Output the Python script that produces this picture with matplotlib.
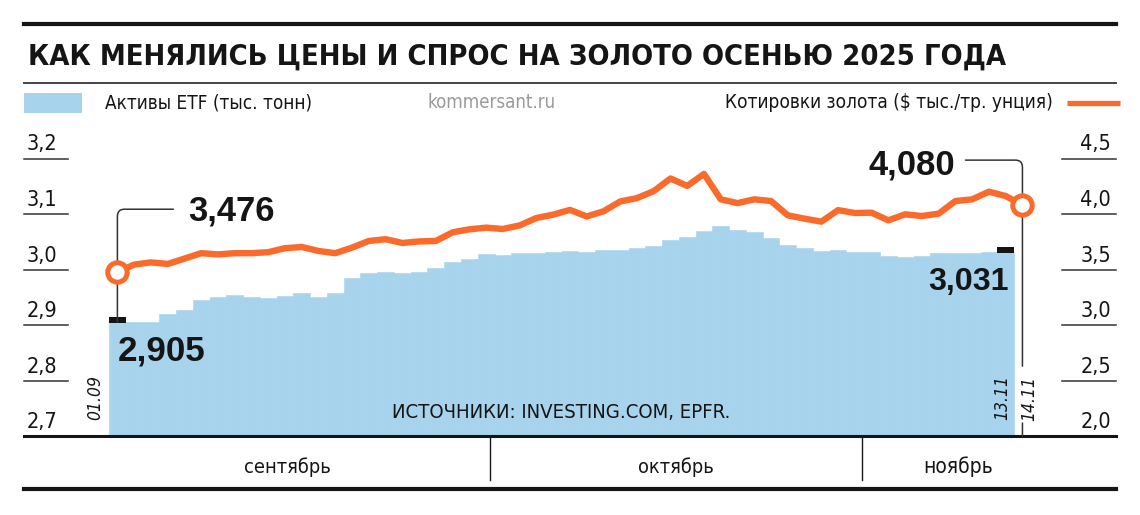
import numpy as np
import matplotlib
matplotlib.use('Agg')
import matplotlib.pyplot as plt
from matplotlib.lines import Line2D
from matplotlib.patches import Rectangle

# ДАННЫЕ
# активы ETF, тыс. тонн, торговые дни 01.09 - 13.11
etf = [2.905, 2.905, 2.905, 2.920, 2.927, 2.945, 2.951, 2.954, 2.951, 2.948,
       2.952, 2.958, 2.951, 2.958, 2.985, 2.994, 2.996, 2.994, 2.996, 3.003,
       3.013, 3.019, 3.028, 3.027, 3.029, 3.030, 3.031, 3.033, 3.032, 3.035,
       3.036, 3.038, 3.043, 3.054, 3.058, 3.069, 3.079, 3.071, 3.067, 3.057,
       3.044, 3.038, 3.033, 3.036, 3.031, 3.031, 3.025, 3.023, 3.025, 3.029,
       3.029, 3.029, 3.031, 3.031]
# котировки золота, $ тыс./тр. унция, 01.09 - 14.11
zoloto = [3.476, 3.544, 3.564, 3.550, 3.598, 3.647, 3.636, 3.647, 3.647, 3.656,
          3.692, 3.703, 3.667, 3.647, 3.697, 3.757, 3.773, 3.739, 3.753, 3.757,
          3.835, 3.862, 3.877, 3.865, 3.897, 3.964, 3.994, 4.037, 3.978, 4.024,
          4.113, 4.143, 4.206, 4.320, 4.253, 4.361, 4.132, 4.098, 4.132, 4.117,
          3.988, 3.958, 3.931, 4.035, 4.009, 4.012, 3.943, 3.997, 3.982, 4.003,
          4.117, 4.132, 4.201, 4.162, 4.080]
daty = ['01.09', '13.11', '14.11']
mesyacy = ['сентябрь', 'октябрь', 'ноябрь']
ticks_lev = [2.7, 2.8, 2.9, 3.0, 3.1, 3.2]
ticks_prav = [2.0, 2.5, 3.0, 3.5, 4.0, 4.5]

titulo = 'КАК МЕНЯЛИСЬ ЦЕНЫ И СПРОС НА ЗОЛОТО ОСЕНЬЮ 2025 ГОДА'
leg_etf = 'Активы ETF (тыс. тонн)'
leg_zol = 'Котировки золота ($ тыс./тр. унция)'
istochnik = 'ИСТОЧНИКИ: INVESTING.COM, EPFR.'

AZUL = '#a7d3ec'
LARANJA = '#fa6a2b'
PRETO = '#151515'
NARROW = ['DejaVu Sans']
BOLD = ['Liberation Sans', 'DejaVu Sans']
ESTREITO = dict(family=NARROW, fontstretch='condensed')

W, H = 1140, 515
fig = plt.figure(figsize=(W / 100, H / 100), dpi=100)
fig.patch.set_facecolor('white')

def fx(px):
    return px / W

def fy(py):
    return 1 - py / H

def fit(t, largura):
    # ajusta o tamanho da fonte para a largura desejada (px)
    r = fig.canvas.get_renderer()
    bb = t.get_window_extent(r)
    t.set_fontsize(t.get_fontsize() * largura / bb.width)

def fmt(v, n=1):
    return f'{v:.{n}f}'.replace('.', ',')

# eixos: x em índice de dia, passo 16.76 px, dia 0 em 117.4 px
passo = 16.76
x0 = 117.4
ax = fig.add_axes([fx(24), fy(436), (1116 - 24) / W, (436 - 140) / H])
ax.set_xlim((24 - x0) / passo, (1116 - x0) / passo)
ax.set_ylim(2.7, 2.7 + (436 - 140) / 555)
ax2 = ax.twinx()
ax2.set_ylim(2.0, 2.0 + (436 - 140) / 111)
for a in (ax, ax2):
    a.axis('off')

dias_etf = np.arange(len(etf))
dias_zol = np.arange(len(zoloto))

# barras ETF
ax.bar(dias_etf, etf, width=1.0, color=AZUL, edgecolor=AZUL, linewidth=0.4, zorder=1)
# marcadores pretos no primeiro e último valor
ax.bar([dias_etf[0], dias_etf[-1]], [0.011, 0.011], bottom=[etf[0] - 0.001, etf[-1] - 0.001],
       width=1.0, color=PRETO, linewidth=0, zorder=2)

# linha base
ax.axhline(2.7, color=PRETO, lw=2.2, zorder=6, clip_on=False)

# escalas
for v in ticks_lev[1:]:
    ax.plot([0, 44 / 1092], [v, v], transform=ax.get_yaxis_transform(), color='#333333',
            lw=1.1, clip_on=False, zorder=6)
for v in ticks_lev:
    ax.annotate(fmt(v), xy=(3 / 1092, v), xycoords=ax.get_yaxis_transform(), xytext=(0, 4),
                textcoords='offset pixels', ha='left', va='bottom', fontsize=15.5,
                color=PRETO, **ESTREITO)
for v in ticks_prav[1:]:
    ax2.plot([1038 / 1092, 1.0], [v, v], transform=ax2.get_yaxis_transform(), color='#333333',
             lw=1.1, clip_on=False, zorder=6)
for v in ticks_prav:
    ax2.annotate(fmt(v), xy=(1087 / 1092, v), xycoords=ax2.get_yaxis_transform(), xytext=(0, 4),
                 textcoords='offset pixels', ha='right', va='bottom', fontsize=15.5,
                 color=PRETO, **ESTREITO)

# linhas-guia
guia = dict(arrowstyle='-', color='#333333', lw=1.1, shrinkA=0, shrinkB=0)
ax2.annotate('', xy=(dias_etf[0], etf[0]), xycoords=ax.transData,
             xytext=(56, 113), textcoords='offset pixels',
             arrowprops=dict(connectionstyle='angle,angleA=0,angleB=90,rad=7', **guia))
ax2.annotate('', xy=(dias_zol[-1], zoloto[-1]), xytext=(-57, 45), textcoords='offset pixels',
             arrowprops=dict(connectionstyle='angle,angleA=0,angleB=90,rad=7', **guia))
ax2.annotate('', xy=(dias_zol[-1], zoloto[-1]), xytext=(0, -161), textcoords='offset pixels',
             arrowprops=guia)
ax2.annotate('', xy=(dias_zol[-1], 2.0), xytext=(0, 13), textcoords='offset pixels',
             arrowprops=guia)

# linha do ouro
ax2.plot(dias_zol, zoloto, color=LARANJA, lw=4.6, solid_joinstyle='round', zorder=4)
ax2.plot([dias_zol[0], dias_zol[-1]], [zoloto[0], zoloto[-1]], 'o', ms=14, mfc='white',
         mec=LARANJA, mew=3.6, zorder=5)

# valores destacados
rotulos = []
rotulos.append(ax2.annotate(fmt(zoloto[0], 3), xy=(dias_zol[0], zoloto[0]), xytext=(71, 52),
                            textcoords='offset pixels', ha='left', va='baseline',
                            fontsize=24, fontweight='bold', family=BOLD, color=PRETO, zorder=7))
rotulos.append(ax.annotate(fmt(etf[0], 3), xy=(dias_etf[0], etf[0]), xytext=(0, -38),
                           textcoords='offset pixels', ha='left', va='baseline',
                           fontsize=24, fontweight='bold', family=BOLD, color=PRETO, zorder=7))
rotulos.append(ax2.annotate(fmt(zoloto[-1], 3), xy=(dias_zol[-1], zoloto[-1]), xytext=(-67, 31),
                            textcoords='offset pixels', ha='right', va='baseline',
                            fontsize=24, fontweight='bold', family=BOLD, color=PRETO, zorder=7))
rotulos.append(ax.annotate(fmt(etf[-1], 3), xy=(dias_etf[-1], etf[-1]), xytext=(3, -38),
                           textcoords='offset pixels', ha='right', va='baseline',
                           fontsize=24, fontweight='bold', family=BOLD, color=PRETO, zorder=7))
for t, w in zip(rotulos, [87, 88, 87, 81]):
    fit(t, w)

# datas
estilo_data = dict(textcoords='offset pixels', rotation=90, ha='center', va='center',
                   fontsize=12.5, style='italic', color=PRETO, **ESTREITO)
ax.annotate(daty[0], xy=(dias_etf[0] - 0.5, 2.7), xytext=(-14, 38), **estilo_data)
ax.annotate(daty[1], xy=(dias_etf[-1] + 0.5, 2.7), xytext=(-12, 38), **estilo_data)
ax2.annotate(daty[2], xy=(dias_zol[-1], 2.0), xytext=(7, 38), **estilo_data)

# fonte
t = fig.text(fx(392), fy(413), istochnik, ha='left', va='center', fontsize=16,
             color=PRETO, **ESTREITO)
fit(t, 341)

# meses
for px in (490, 862):
    fig.add_artist(Line2D([fx(px), fx(px)], [fy(437), fy(480)], color=PRETO, lw=1.0))
for nome, px, w in zip(mesyacy, (287, 676, 958), (87, 76, 70)):
    t = fig.text(fx(px), fy(467), nome, ha='center', va='center', fontsize=16,
                 color=PRETO, **ESTREITO)
    fit(t, w)

# linhas horizontais de moldura
fig.add_artist(Line2D([fx(24), fx(1116)], [fy(24), fy(24)], color=PRETO, lw=3.0))
fig.add_artist(Line2D([fx(24), fx(1116)], [fy(83), fy(83)], color='#444444', lw=1.4))
fig.add_artist(Line2D([fx(24), fx(1116)], [fy(489), fy(489)], color=PRETO, lw=3.0))

# título
t = fig.text(fx(28), fy(57), titulo, ha='left', va='center', fontsize=24,
             fontweight='heavy', color=PRETO, **ESTREITO)
fit(t, 982)

# legenda
fig.add_artist(Rectangle((fx(24), fy(113)), 58 / W, 20 / H, color=AZUL, lw=0))
t = fig.text(fx(105), fy(103), leg_etf, ha='left', va='center', fontsize=15,
             color=PRETO, **ESTREITO)
fit(t, 208)
t = fig.text(fx(492), fy(103), 'kommersant.ru', ha='center', va='center', fontsize=15,
             color='#9a9a9a', **ESTREITO)
fit(t, 129)
t = fig.text(fx(1053), fy(103), leg_zol, ha='right', va='center', fontsize=15,
             color=PRETO, **ESTREITO)
fit(t, 330)
fig.add_artist(Line2D([fx(1067), fx(1120)], [fy(103), fy(103)], color=LARANJA, lw=3.8,
                      solid_capstyle='butt'))

fig.savefig('out.png', dpi=100, facecolor='white')
